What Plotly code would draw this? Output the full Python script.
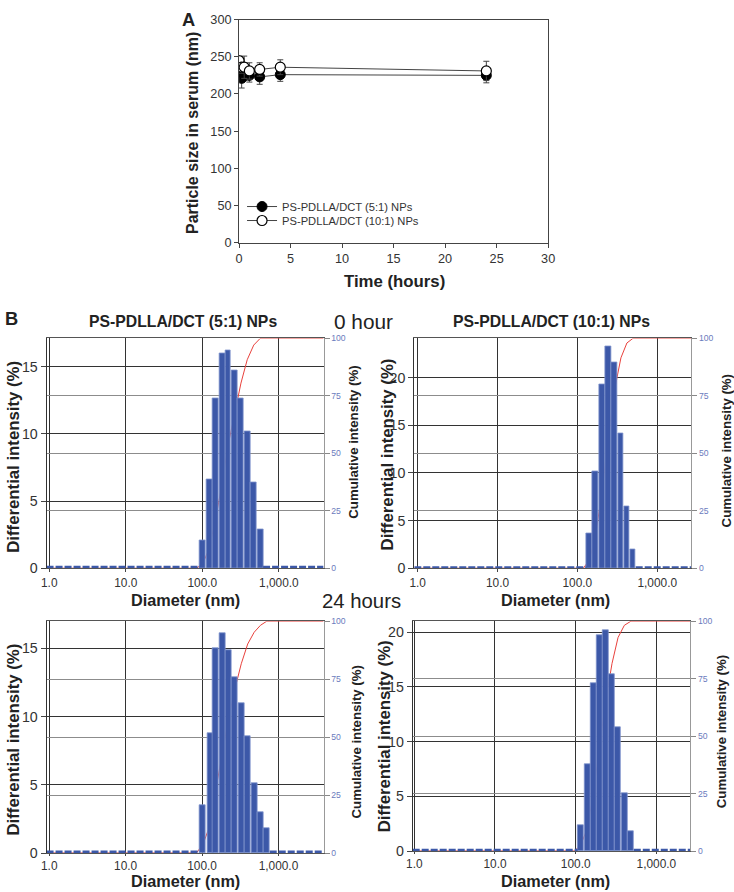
import numpy as np
import plotly.graph_objects as go

# ---------------- data ----------------
# Panel A: particle size in serum vs time
time_h = [0, 0.25, 0.5, 1, 2, 4, 24]
size_51 = [230, 221, 226, 225, 223, 226, 225]
err_51 = [6, 13, 8, 9, 10, 9, 10]
size_101 = [245, 236, 236, 231, 233, 236, 231]
err_101 = [5, 8, 15, 11, 9, 10, 13]

# Panel B: DLS distributions (bin centre diameter in nm, differential intensity %)
tl_diam = [102, 123, 149, 182, 217, 265, 320, 386, 470, 570]          # 5:1, 0 h
tl_int = [2.1, 6.6, 12.6, 16.0, 16.2, 14.7, 12.6, 10.2, 6.4, 2.9]
tr_diam = [142, 168, 203, 242, 292, 351, 417, 495]                     # 10:1, 0 h
tr_int = [3.7, 10.2, 19.3, 23.3, 21.6, 14.1, 6.5, 2.0]
bl_diam = [102, 128, 151, 184, 222, 269, 326, 396, 481, 581, 703]      # 5:1, 24 h
bl_int = [3.5, 8.8, 15.0, 16.1, 14.9, 12.9, 11.0, 8.6, 5.1, 3.0, 1.8]
br_diam = [115, 141, 166, 197, 236, 282, 335, 401, 483]                # 10:1, 24 h
br_int = [2.4, 7.9, 15.3, 19.7, 20.2, 16.2, 11.3, 5.3, 1.8]

x_ticks = [1, 10, 100, 1000]
x_ticktext = ["1.0", "10.0", "100.0", "1,000.0"]
cum_ticks = [0, 25, 50, 75, 100]

# ---------------- layout helpers ----------------
W, H = 734, 892
# calibration between target picture pixels and page pixels
AX, SX = 3.5, 0.987
AY, SY = 7.3, 0.984
FONT = "Arial, 'Liberation Sans', sans-serif"
BAR = "#3c58a8"
RED = "#e8413c"


def PX(t):
    return (t - AX) / SX


def PY(t):
    return (t - AY) / SY


def fs(s):
    return round(s / SY, 2)


def dx(a, b):
    return [PX(a) / W, PX(b) / W]


def dy(top, bottom):
    return [1 - PY(bottom) / H, 1 - PY(top) / H]


fig = go.Figure()

# ---------------- Panel A ----------------
fig.add_trace(go.Scatter(
    x=time_h, y=size_51, mode="lines+markers", name="PS-PDLLA/DCT (5:1) NPs",
    line=dict(color="#444", width=1),
    marker=dict(symbol="circle", size=10, color="black", line=dict(color="black", width=1)),
    error_y=dict(type="data", array=err_51, color="#444", thickness=1, width=3),
    xaxis="x", yaxis="y", legend="legend"))
fig.add_trace(go.Scatter(
    x=time_h, y=size_101, mode="lines+markers", name="PS-PDLLA/DCT (10:1) NPs",
    line=dict(color="#444", width=1),
    marker=dict(symbol="circle", size=10, color="white", line=dict(color="black", width=1.2)),
    error_y=dict(type="data", array=err_101, color="#444", thickness=1, width=3),
    xaxis="x", yaxis="y", legend="legend2"))

leg_common = dict(xanchor="left", yanchor="middle",
                  font=dict(size=fs(11), color="#333", family=FONT),
                  bgcolor="rgba(0,0,0,0)", itemwidth=30, tracegroupgap=0, borderwidth=0)

layout = dict(
    width=W, height=H, autosize=False,
    margin=dict(l=0, r=0, t=0, b=0),
    paper_bgcolor="white", plot_bgcolor="white",
    font=dict(family=FONT, color="#222"),
    showlegend=True,
    legend=dict(x=PX(240) / W, y=1 - PY(207) / H, **leg_common),
    legend2=dict(x=PX(240) / W, y=1 - PY(221) / H, **leg_common),
    bargap=0,
)
layout["xaxis"] = dict(
    domain=dx(237, 548), anchor="y", range=[0, 30], dtick=5,
    showgrid=False, zeroline=False, showline=True, linecolor="#444", linewidth=1, mirror=True,
    ticks="outside", ticklen=4, tickcolor="#444", tickfont=dict(size=fs(12.5), color="#333"))
layout["yaxis"] = dict(
    domain=dy(20, 243), anchor="x", range=[0, 300], dtick=50,
    showgrid=False, zeroline=False, showline=True, linecolor="#444", linewidth=1, mirror=True,
    ticks="outside", ticklen=4, tickcolor="#444", tickfont=dict(size=fs(12.5), color="#333"))

# ---------------- Panel B ----------------
panels = [
    dict(diam=tl_diam, inten=tl_int, xr=[-0.035, 3.584], ymax=17.1, xd=(43.3, 322), yd=(339, 569), tl=3),
    dict(diam=tr_diam, inten=tr_int, xr=[-0.042, 3.426], ymax=24.1, xd=(413.3, 692), yd=(339, 569), tl=3),
    dict(diam=bl_diam, inten=bl_int, xr=[-0.035, 3.59], ymax=17.0, xd=(43.3, 322), yd=(622, 854), tl=2),
    dict(diam=br_diam, inten=br_int, xr=[-0.02, 3.42], ymax=21.0, xd=(411.7, 691), yd=(622, 852), tl=2),
]

for i, p in enumerate(panels):
    xn = i + 2
    yb = 2 * i + 2      # base axis: cumulative (right)
    yo = 2 * i + 3      # overlay axis: differential (left)
    xa, yba, yoa = f"x{xn}", f"y{yb}", f"y{yo}"

    diam = np.array(p["diam"], dtype=float)
    inten = np.array(p["inten"], dtype=float)
    step = np.mean(np.diff(np.log10(diam)))
    half = 10 ** (0.92 * step / 2)
    left_e, right_e = diam / half, diam * half
    xmin, xmax = 10 ** p["xr"][0], 10 ** p["xr"][1]

    # cumulative intensity (red) - drawn on base axis so it sits under the bars
    cum = np.cumsum(inten) / inten.sum() * 100
    cx = [xmin, diam[0] / 10 ** step] + list(diam) + [xmax]
    cy = [0, 0] + list(cum) + [100]
    fig.add_trace(go.Scatter(x=cx, y=cy, mode="lines", line=dict(color=RED, width=1),
                             showlegend=False, hoverinfo="skip", xaxis=xa, yaxis=yba))

    # differential intensity bars
    fig.add_trace(go.Bar(x=(left_e + right_e) / 2, y=inten, width=right_e - left_e,
                         marker=dict(color=BAR, line=dict(color="#7f93cc", width=0.8)),
                         showlegend=False, xaxis=xa, yaxis=yoa))
    # zero-intensity baseline (dashed blue)
    fig.add_trace(go.Scatter(x=[xmin, left_e[0], None, right_e[-1], xmax], y=[0.08, 0.08, None, 0.08, 0.08],
                             mode="lines", line=dict(color=BAR, width=2.6, dash="7px,2px"),
                             showlegend=False, hoverinfo="skip", xaxis=xa, yaxis=yoa))

    layout[f"xaxis{xn}"] = dict(
        type="log", domain=dx(*p["xd"]), anchor=yba, range=p["xr"],
        tickvals=x_ticks, ticktext=x_ticktext,
        showgrid=True, gridcolor="#333", gridwidth=1,
        showline=True, linecolor="#555", linewidth=1, mirror=True,
        ticks="outside", ticklen=p["tl"], tickcolor="#444",
        tickfont=dict(size=fs(11.7), color="#333"))
    layout[f"yaxis{yb}"] = dict(
        domain=dy(*p["yd"]), anchor=xa, side="right", range=[0, 100],
        tickvals=cum_ticks, showgrid=True, gridcolor="#8c8c8c", gridwidth=1.3,
        zeroline=False, showline=True, linecolor="#999", linewidth=1,
        ticks="outside", ticklen=5, tickcolor="#888",
        tickfont=dict(size=fs(8.5), color="#6b7bbd"))
    layout[f"yaxis{yo}"] = dict(
        overlaying=yba, anchor=xa, side="left", range=[0, p["ymax"]], dtick=5,
        showgrid=True, gridcolor="#333", gridwidth=1,
        zeroline=False, showline=True, linecolor="#333", linewidth=1,
        ticks="outside", ticklen=5, tickcolor="#444",
        tickfont=dict(size=fs(14), color="#333"))

fig.update_layout(**layout)

# ---------------- text ----------------
ann = []


def add_text(text, x, y, size, bold=False, angle=0, color="#222", xanchor="center", yanchor="middle"):
    ann.append(dict(text=f"<b>{text}</b>" if bold else text, x=PX(x) / W, y=1 - PY(y) / H,
                    xref="paper", yref="paper", showarrow=False, textangle=angle,
                    xanchor=xanchor, yanchor=yanchor,
                    font=dict(size=fs(size), color=color, family=FONT)))


add_text("A", 186, AY, 18, bold=True, yanchor="top")
add_text("Particle size in serum (nm)", 190, 133, 15.7, bold=True, angle=-90)
add_text("Time (hours)", 393, 282, 16.5, bold=True)

add_text("B", 8, 319, 18, bold=True)
add_text("PS-PDLLA/DCT (5:1) NPs", 181, 322, 15.5, bold=True)
add_text("PS-PDLLA/DCT (10:1) NPs", 551, 322, 15.5, bold=True)
add_text("0 hour", 362, 322, 20.5)
add_text("24 hours", 360, 602, 20)

for xc, yc in [(183, 601), (555, 601), (183, 882.5), (555, 882.5)]:
    add_text("Diameter (nm)", xc, yc, 16, bold=True)
for xc, yc in [(10, 457), (386, 455), (10, 740), (383, 737)]:
    add_text("Differential intensity (%)", xc, yc, 16.5, bold=True, angle=-90)
for xc, yc in [(352, 443), (727, 452), (355, 743), (722, 733)]:
    add_text("Cumulative intensity (%)", xc, yc, 13, bold=True, angle=-90)

fig.update_layout(annotations=ann)

# pin the graph to the page's top-left corner (removes the default body margin)
pin = ("document.body.style.margin='0';"
       "var g=document.getElementById('{plot_id}');"
       "g.style.position='absolute';g.style.left='0px';g.style.top='0px';")

fig.write_html("out.html", post_script=pin, config={"displayModeBar": False})
